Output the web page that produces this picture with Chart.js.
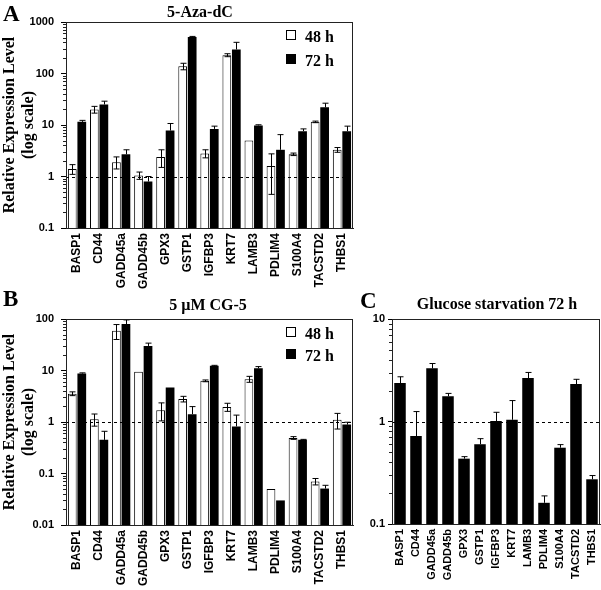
<!DOCTYPE html>
<html>
<head>
<meta charset="utf-8">
<script src="https://cdn.jsdelivr.net/npm/chart.js@4.4.1/dist/chart.umd.min.js"></script>
<style>
  html, body { margin: 0; padding: 0; background: #fff; overflow: hidden; }
  #wrap { position: relative; width: 601px; height: 590px; }
  canvas { position: absolute; }
</style>
</head>
<body>
<div id="wrap">
  <canvas id="chartA" width="380" height="290" style="left:0;top:0;width:380px;height:290px"></canvas>
  <canvas id="chartB" width="380" height="300" style="left:0;top:290px;width:380px;height:300px"></canvas>
  <canvas id="chartC" width="271" height="300" style="left:330px;top:290px;width:271px;height:300px"></canvas>
</div>
<script>
const genes = ['BASP1', 'CD44', 'GADD45a', 'GADD45b', 'GPX3', 'GSTP1', 'IGFBP3',
               'KRT7', 'LAMB3', 'PDLIM4', 'S100A4', 'TACSTD2', 'THBS1'];

// A: 5-Aza-dC
const aza48    = [1.4, 20, 1.9, 1.05, 2.4, 138, 2.8, 227, 5.0, 1.6, 2.7, 11.5, 3.3];
const aza48Err = [0.3, 3, 0.5, 0.17, 0.9, 20, 0.5, 15, 0, 1.15, 0.15, 0.4, 0.35];
const aza72    = [11.5, 25, 2.7, 0.8, 7.8, 510, 8.4, 293, 9.8, 3.3, 7.6, 22, 7.6];
const aza72Err = [0.8, 4, 0.6, 0.2, 2.9, 15, 1.1, 110, 0.3, 3.2, 0.8, 4.5, 1.9];

// B: 5 uM CG-5
const cg48    = [3.55, 1.13, 59, 9.5, 1.7, 2.8, 6.3, 1.96, 6.8, 0.05, 0.49, 0.07, 1.1];
const cg48Err = [0.3, 0.3, 19, 0, 0.65, 0.35, 0.25, 0.35, 0.9, 0, 0.03, 0.01, 0.37];
const cg72    = [8.7, 0.45, 80, 30, 4.7, 1.42, 12.3, 0.82, 11, 0.03, 0.45, 0.051, 0.89];
const cg72Err = [0.3, 0.21, 16, 4, 0, 0.57, 0.3, 0.54, 0.9, 0, 0.01, 0.008, 0.1];

// C: glucose starvation 72 h
const glu72    = [2.37, 0.72, 3.3, 1.76, 0.434, 0.6, 1.01, 1.04, 2.65, 0.161, 0.555, 2.32, 0.273];
const glu72Err = [0.36, 0.53, 0.38, 0.12, 0.02, 0.08, 0.22, 0.56, 0.36, 0.027, 0.04, 0.26, 0.024];

const ticksA = [0.1, 1, 10, 100, 1000];
const ticksB = [0.01, 0.1, 1, 10, 100];
const ticksC = [0.1, 1, 10];

const SERIF = '"Liberation Serif", "Times New Roman", serif';
const SANS = '"Liberation Sans", Arial, sans-serif';

// panel letter, title, legend, frame, dashed line at 1, minor ticks
const decorPlugin = {
    id: 'decor',
    afterDatasetsDraw(chart) {
        const ctx = chart.ctx;
        const a = chart.chartArea;
        const y = chart.scales.y;
        const o = chart.options.plugins.decor;
        ctx.save();
        // dashed reference line
        const y1 = Math.round(y.getPixelForValue(1)) + 0.5;
        ctx.strokeStyle = '#000';
        ctx.lineWidth = 1;
        ctx.setLineDash([3, 3]);
        ctx.beginPath();
        ctx.moveTo(a.left, y1);
        ctx.lineTo(a.right, y1);
        ctx.stroke();
        ctx.setLineDash([]);

        // error bars
        chart.data.datasets.forEach((ds, i) => {
            const meta = chart.getDatasetMeta(i);
            meta.data.forEach((el, j) => {
                const v = ds.data[j], e = ds.errors[j];
                if (!e) return;
                const x = Math.round(el.x) + 0.5;
                const yt = y.getPixelForValue(v + e);
                const yb = ds.upOnly || v - e <= 0 ? el.y : y.getPixelForValue(v - e);
                ctx.beginPath();
                ctx.moveTo(x, yt);
                ctx.lineTo(x, yb);
                ctx.moveTo(x - o.cap, yt);
                ctx.lineTo(x + o.cap, yt);
                if (!ds.upOnly) {
                    ctx.moveTo(x - o.cap, yb);
                    ctx.lineTo(x + o.cap, yb);
                }
                ctx.stroke();
            });
        });

        // frame
        ctx.strokeStyle = '#222';
        ctx.strokeRect(Math.round(a.left) + 0.5, Math.round(a.top) + 0.5,
                       Math.round(a.right - a.left) - 1, Math.round(a.bottom - a.top));

        // minor ticks
        ctx.beginPath();
        for (let k = Math.log10(y.min); k < Math.log10(y.max); k++) {
            for (let m = 2; m < 10; m++) {
                const py = Math.round(y.getPixelForValue(m * Math.pow(10, k))) + 0.5;
                ctx.moveTo(a.left - 3, py);
                ctx.lineTo(a.left, py);
            }
        }
        ctx.stroke();

        // panel letter and title
        ctx.fillStyle = '#000';
        ctx.textBaseline = 'alphabetic';
        ctx.font = 'bold 23px ' + SERIF;
        ctx.textAlign = 'left';
        ctx.fillText(o.letter, o.lx, o.ly);
        ctx.font = 'bold 16px ' + SERIF;
        ctx.textAlign = 'center';
        ctx.fillText(o.title, o.tx, o.ty);

        // legend
        if (o.legend) {
            const L = o.legend;
            ctx.font = 'bold 16px ' + SERIF;
            ctx.textAlign = 'left';
            ctx.lineWidth = 1;
            ctx.strokeStyle = '#000';
            ctx.strokeRect(L.x + 0.5, L.y1 + 0.5, L.s - 1, L.s - 1);
            ctx.fillRect(L.x, L.y2, L.s, L.s);
            ctx.fillText('48 h', L.x + 19, L.y1 + 12);
            ctx.fillText('72 h', L.x + 19, L.y2 + 12);
        }
        ctx.restore();
    }
};

function makeConfig(datasets, tickVals, opt) {
    return {
        type: 'bar',
        data: { labels: genes, datasets: datasets },
        plugins: [decorPlugin],
        options: {
            responsive: false,
            animation: false,
            layout: { padding: opt.padding },
            plugins: {
                legend: { display: false },
                tooltip: { enabled: false },
                decor: opt.decor
            },
            scales: {
                x: {
                    grid: { display: false, drawTicks: false },
                    border: { display: true, color: '#222' },
                    ticks: {
                        autoSkip: false,
                        minRotation: 90,
                        maxRotation: 90,
                        padding: 5,
                        color: '#000',
                        font: { family: SANS, size: opt.xFont, weight: 'bold' }
                    },
                    afterFit(scale) {
                        scale.height = opt.xHeight;
                        scale.paddingLeft = 0;
                        scale.paddingRight = 0;
                    }
                },
                y: {
                    type: 'logarithmic',
                    min: tickVals[0],
                    max: tickVals[tickVals.length - 1],
                    afterBuildTicks(scale) {
                        scale.ticks = tickVals.map(v => ({ value: v }));
                    },
                    grid: { drawOnChartArea: false, drawTicks: true, tickLength: opt.tickLen, color: '#000' },
                    border: { display: true, color: '#222' },
                    ticks: {
                        padding: opt.tickPad,
                        color: '#000',
                        font: { family: SANS, size: 11, weight: 'bold' },
                        callback: v => String(v)
                    },
                    title: opt.yTitle ? {
                        display: true,
                        text: ['Relative Expression Level', '(log scale)'],
                        color: '#000',
                        padding: 0,
                        font: { family: SERIF, size: 16, weight: 'bold', lineHeight: 1.2 }
                    } : { display: false },
                    afterFit(scale) { scale.width = opt.yWidth; }
                }
            }
        }
    };
}

function pair(v48, e48, v72, e72) {
    return [
        { label: '48 h', data: v48, errors: e48, backgroundColor: '#fff', borderColor: '#000',
          borderWidth: 1, categoryPercentage: 0.86, barPercentage: 0.92 },
        { label: '72 h', data: v72, errors: e72, upOnly: true, backgroundColor: '#000', borderColor: '#000',
          borderWidth: 0, categoryPercentage: 0.86, barPercentage: 0.92 }
    ];
}

new Chart(document.getElementById('chartA'), makeConfig(
    pair(aza48, aza48Err, aza72, aza72Err), ticksA, {
        padding: { top: 22, right: 27, left: 0, bottom: 0 },
        xHeight: 62, yWidth: 66, tickLen: 5, tickPad: 7, xFont: 12, yTitle: true,
        decor: { letter: 'A', lx: 3, ly: 21, title: '5-Aza-dC', tx: 200, ty: 17, cap: 3,
                 legend: { x: 286, y1: 30, y2: 54, s: 10 } }
    }));

new Chart(document.getElementById('chartB'), makeConfig(
    pair(cg48, cg48Err, cg72, cg72Err), ticksB, {
        padding: { top: 29, right: 27, left: 0, bottom: 0 },
        xHeight: 65, yWidth: 66, tickLen: 5, tickPad: 7, xFont: 12, yTitle: true,
        decor: { letter: 'B', lx: 3, ly: 16, title: '5 \u00b5M CG-5', tx: 208, ty: 20, cap: 3,
                 legend: { x: 286, y1: 37, y2: 59, s: 10 } }
    }));

new Chart(document.getElementById('chartC'), makeConfig(
    [{ label: '72 h', data: glu72, errors: glu72Err, upOnly: true, backgroundColor: '#000',
       borderWidth: 0, categoryPercentage: 1, barPercentage: 0.72 }], ticksC, {
        padding: { top: 29, right: 1, left: 0, bottom: 0 },
        xHeight: 66, yWidth: 62, tickLen: 4, tickPad: 3, xFont: 11, yTitle: false,
        decor: { letter: 'C', lx: 30, ly: 18, title: 'Glucose starvation 72 h', tx: 167, ty: 19, cap: 3 }
    }));
</script>
</body>
</html>
